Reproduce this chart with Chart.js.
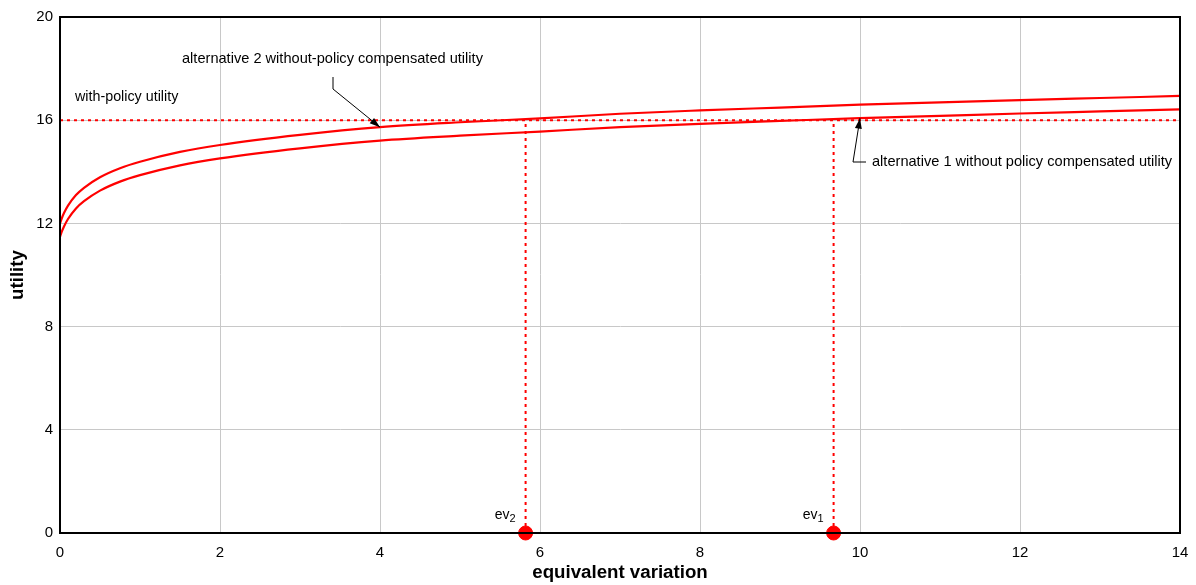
<!DOCTYPE html>
<html>
<head>
    <script src="https://cdn.jsdelivr.net/npm/chart.js@4.4.1/dist/chart.umd.min.js"></script>
    <style>
        body {
            margin: 0;
            padding: 0;
            background: white;
        }
    </style>
</head>
<body>
    <canvas id="evChart" width="1196" height="585"></canvas>

    <script>
        // equivalent variation on x, utility on y
        const curveX = [0, 0.02, 0.05, 0.1, 0.2, 0.3, 0.5, 0.75, 1, 1.5, 2, 3, 4, 5, 6, 7, 8, 9, 10, 11, 12, 13, 14];
        const alt2Utility = [12.0, 12.18, 12.40, 12.69, 13.10, 13.38, 13.79, 14.14, 14.39, 14.77, 15.04, 15.43, 15.73, 15.92, 16.07, 16.25, 16.38, 16.49, 16.60, 16.69, 16.78, 16.86, 16.94];
        const alt1Utility = [11.48, 11.66, 11.88, 12.17, 12.58, 12.86, 13.27, 13.62, 13.87, 14.25, 14.52, 14.91, 15.21, 15.40, 15.56, 15.73, 15.86, 15.97, 16.08, 16.17, 16.26, 16.34, 16.42];
        const withPolicyUtility = 16;
        const evValues = [9.67, 5.82];   // ev1, ev2
        const evNames = ['1', '2'];
        const xRange = [0, 14];
        const yRange = [0, 20];

        const RED = '#ff0000';
        const FONT = 'Arial, "Liberation Sans", sans-serif';

        function pts(xs, ys) {
            return xs.map((x, i) => ({ x: x, y: ys[i] }));
        }

        const dotted = {
            borderColor: RED,
            borderWidth: 2,
            borderDash: [3, 4],
            pointRadius: 0,
            showLine: true,
            fill: false
        };

        const datasets = [
            Object.assign({ label: 'with-policy', data: [{ x: xRange[0], y: withPolicyUtility }, { x: xRange[1], y: withPolicyUtility }] }, dotted),
            Object.assign({ label: 'ev1 line', data: [{ x: evValues[0], y: 0 }, { x: evValues[0], y: withPolicyUtility }] }, dotted),
            Object.assign({ label: 'ev2 line', data: [{ x: evValues[1], y: 0 }, { x: evValues[1], y: withPolicyUtility }] }, dotted),
            {
                label: 'alternative 2',
                data: pts(curveX, alt2Utility),
                borderColor: RED,
                borderWidth: 2.2,
                pointRadius: 0,
                showLine: true,
                cubicInterpolationMode: 'monotone'
            },
            {
                label: 'alternative 1',
                data: pts(curveX, alt1Utility),
                borderColor: RED,
                borderWidth: 2.2,
                pointRadius: 0,
                showLine: true,
                cubicInterpolationMode: 'monotone'
            },
            {
                label: 'ev',
                data: evValues.map(v => ({ x: v, y: 0 })),
                backgroundColor: RED,
                borderColor: RED,
                pointRadius: 7,
                showLine: false,
                clip: false
            }
        ];

        const annotations = {
            id: 'annotations',
            afterDraw(chart) {
                const c = chart.ctx;
                const xs = chart.scales.x, ys = chart.scales.y;
                const a = chart.chartArea;
                c.save();
                // frame
                c.strokeStyle = '#000';
                c.lineWidth = 2;
                c.strokeRect(a.left, a.top, a.right - a.left, a.bottom - a.top);

                c.fillStyle = '#000';
                c.textBaseline = 'middle';
                c.textAlign = 'left';
                c.font = '14.3px ' + FONT;
                c.fillText('with-policy utility', 75, 97);
                c.font = '14.6px ' + FONT;
                c.fillText('alternative 2 without-policy compensated utility', 182, 59);
                c.fillText('alternative 1 without policy compensated utility', 872, 162);

                function arrow(path, tip) {
                    c.strokeStyle = '#000';
                    c.lineWidth = 1;
                    c.beginPath();
                    c.moveTo(path[0][0], path[0][1]);
                    for (let i = 1; i < path.length; i++) c.lineTo(path[i][0], path[i][1]);
                    c.lineTo(tip[0], tip[1]);
                    c.stroke();
                    const from = path[path.length - 1];
                    const ang = Math.atan2(tip[1] - from[1], tip[0] - from[0]);
                    c.beginPath();
                    c.moveTo(tip[0], tip[1]);
                    c.lineTo(tip[0] - 11 * Math.cos(ang - 0.32), tip[1] - 11 * Math.sin(ang - 0.32));
                    c.lineTo(tip[0] - 11 * Math.cos(ang + 0.32), tip[1] - 11 * Math.sin(ang + 0.32));
                    c.closePath();
                    c.fill();
                }
                // alt 2 pointer lands on the curve at x = 4
                arrow([[333, 77], [333, 89]], [xs.getPixelForValue(4), ys.getPixelForValue(alt2Utility[12])]);
                // alt 1 pointer lands on the curve at x = 10
                arrow([[866, 162], [853, 162]], [xs.getPixelForValue(10), ys.getPixelForValue(alt1Utility[18])]);

                // ev labels with subscripts
                evValues.forEach((v, i) => {
                    const px = xs.getPixelForValue(v);
                    const py = ys.getPixelForValue(0) - 18;
                    c.font = '14px ' + FONT;
                    c.textAlign = 'left';
                    const w = c.measureText('ev').width;
                    c.font = '11px ' + FONT;
                    const sw = c.measureText(evNames[i]).width;
                    const x0 = px - 10 - w - sw;
                    c.font = '14px ' + FONT;
                    c.fillText('ev', x0, py);
                    c.font = '11px ' + FONT;
                    c.fillText(evNames[i], x0 + w, py + 4);
                });
                c.restore();
            }
        };

        const ctx = document.getElementById('evChart').getContext('2d');
        const chart = new Chart(ctx, {
            type: 'scatter',
            data: { datasets: datasets },
            plugins: [annotations],
            options: {
                responsive: false,
                animation: false,
                devicePixelRatio: 1,
                layout: { padding: { top: 17, right: 16, left: 0, bottom: 0 } },
                plugins: {
                    legend: { display: false },
                    tooltip: { enabled: false }
                },
                scales: {
                    x: {
                        type: 'linear',
                        min: xRange[0],
                        max: xRange[1],
                        ticks: { stepSize: 2, color: '#000', font: { family: FONT, size: 15 }, padding: 11, maxRotation: 0 },
                        grid: { color: '#c8c8c8', lineWidth: 1, drawTicks: false },
                        border: { color: '#000', width: 2 },
                        title: { display: true, text: 'equivalent variation', color: '#000', font: { family: FONT, size: 18.7, weight: 'bold' }, padding: { top: 0, bottom: 1 } },
                        afterFit(scale) {
                            scale.height = 52;
                            scale.paddingLeft = 0;
                            scale.paddingRight = 0;
                        }
                    },
                    y: {
                        min: yRange[0],
                        max: yRange[1],
                        ticks: { stepSize: 4, color: '#000', font: { family: FONT, size: 15 }, padding: 7 },
                        grid: { color: '#c8c8c8', lineWidth: 1, drawTicks: false },
                        border: { color: '#000', width: 2 },
                        title: { display: true, text: 'utility', color: '#000', font: { family: FONT, size: 18.7, weight: 'bold' }, padding: { top: 7, bottom: 0 } },
                        afterFit(scale) {
                            scale.width = 60;
                            scale.paddingTop = 0;
                            scale.paddingBottom = 0;
                        }
                    }
                }
            }
        });
    </script>
</body>
</html>
